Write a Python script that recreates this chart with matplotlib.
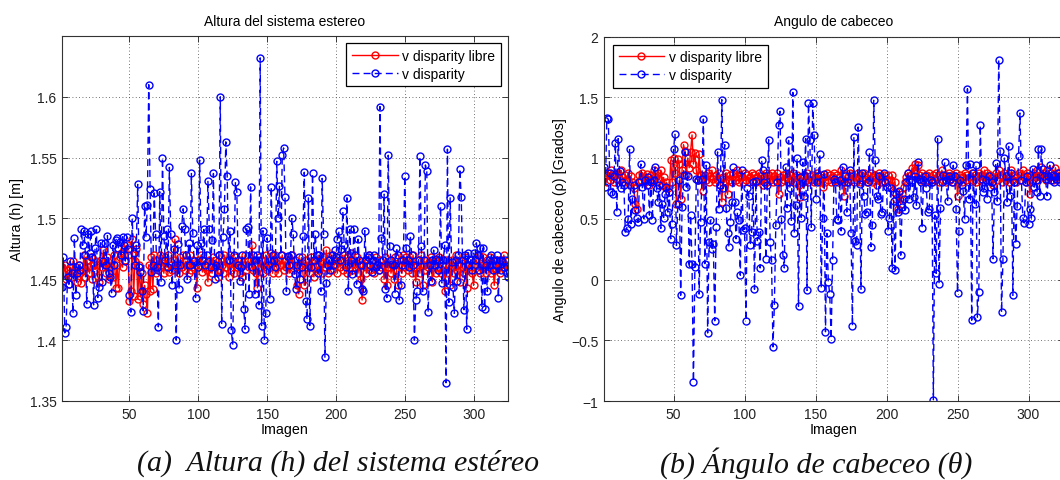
#!/usr/bin/env python3
"""
Altura del sistema estereo y angulo de cabeceo por imagen:
v disparity libre frente a v disparity.
"""

import matplotlib
matplotlib.use("Agg")
import matplotlib.pyplot as plt


# --- (a) altura [m] ---------------------------------------------------------
ALTURA_LIBRE = [
    1.460, 1.455, 1.462, 1.450, 1.458, 1.446, 1.460, 1.452, 1.465, 1.455,
    1.460, 1.448, 1.462, 1.455, 1.447, 1.458, 1.470, 1.452, 1.466, 1.460,
    1.455, 1.468, 1.450, 1.462, 1.458, 1.465, 1.452, 1.448, 1.466, 1.460,
    1.474, 1.462, 1.455, 1.468, 1.450, 1.460, 1.466, 1.452, 1.470, 1.443,
    1.462, 1.443, 1.468, 1.472, 1.460, 1.475, 1.466, 1.478, 1.470, 1.432,
    1.440, 1.483, 1.436, 1.465, 1.475, 1.434, 1.462, 1.436, 1.455, 1.430,
    1.445, 1.438, 1.422, 1.462, 1.440, 1.468, 1.442, 1.470, 1.455, 1.466,
    1.458, 1.470, 1.462, 1.465, 1.455, 1.468, 1.460, 1.470, 1.456, 1.462,
    1.458, 1.466, 1.483, 1.460, 1.462, 1.455, 1.468, 1.460, 1.470, 1.458,
    1.465, 1.462, 1.455, 1.470, 1.458, 1.466, 1.460, 1.462, 1.443, 1.466,
    1.462, 1.470, 1.456, 1.465, 1.460, 1.458, 1.448, 1.466, 1.462, 1.455,
    1.468, 1.460, 1.466, 1.452, 1.470, 1.458, 1.462, 1.455, 1.470, 1.460,
    1.466, 1.452, 1.470, 1.458, 1.465, 1.455, 1.468, 1.460, 1.462, 1.455,
    1.466, 1.452, 1.462, 1.470, 1.458, 1.465, 1.460, 1.466, 1.478, 1.458,
    1.462, 1.455, 1.443, 1.468, 1.460, 1.466, 1.455, 1.462, 1.470, 1.458,
    1.466, 1.460, 1.472, 1.455, 1.466, 1.470, 1.460, 1.455, 1.466, 1.462,
    1.470, 1.458, 1.465, 1.460, 1.468, 1.455, 1.462, 1.470, 1.458, 1.466,
    1.460, 1.445, 1.438, 1.462, 1.468, 1.455, 1.445, 1.466, 1.460, 1.462,
    1.455, 1.468, 1.460, 1.452, 1.466, 1.462, 1.470, 1.458, 1.465, 1.455,
    1.468, 1.460, 1.474, 1.455, 1.466, 1.462, 1.458, 1.470, 1.462, 1.466,
    1.455, 1.468, 1.460, 1.465, 1.458, 1.470, 1.462, 1.455, 1.468, 1.460,
    1.472, 1.458, 1.466, 1.460, 1.468, 1.455, 1.462, 1.450, 1.433, 1.462,
    1.466, 1.455, 1.462, 1.470, 1.458, 1.465, 1.460, 1.455, 1.468, 1.462,
    1.458, 1.466, 1.460, 1.462, 1.450, 1.468, 1.445, 1.460, 1.466, 1.455,
    1.462, 1.450, 1.468, 1.458, 1.445, 1.462, 1.466, 1.455, 1.470, 1.460,
    1.468, 1.458, 1.462, 1.466, 1.455, 1.470, 1.460, 1.448, 1.462, 1.466,
    1.455, 1.470, 1.445, 1.462, 1.458, 1.466, 1.460, 1.455, 1.468, 1.448,
    1.462, 1.466, 1.455, 1.460, 1.468, 1.455, 1.462, 1.458, 1.440, 1.466,
    1.455, 1.462, 1.445, 1.466, 1.460, 1.455, 1.470, 1.458, 1.462, 1.448,
    1.466, 1.460, 1.455, 1.468, 1.443, 1.462, 1.458, 1.466, 1.455, 1.445,
    1.462, 1.466, 1.458, 1.470, 1.455, 1.462, 1.468, 1.460, 1.455, 1.466,
    1.460, 1.468, 1.455, 1.462, 1.445, 1.458, 1.466, 1.460, 1.455, 1.462,
    1.466, 1.470, 1.458, 1.462, 1.460,
]

ALTURA_VDISP = [
    1.444, 1.468, 1.406, 1.411, 1.452, 1.446, 1.465, 1.455, 1.422, 1.484,
    1.437, 1.455, 1.462, 1.458, 1.491, 1.478, 1.490, 1.470, 1.430, 1.487,
    1.472, 1.490, 1.468, 1.429, 1.476, 1.491, 1.435, 1.444, 1.480, 1.448,
    1.465, 1.480, 1.462, 1.486, 1.455, 1.452, 1.439, 1.478, 1.462, 1.482,
    1.484, 1.476, 1.481, 1.470, 1.485, 1.478, 1.465, 1.485, 1.475, 1.437,
    1.423, 1.500, 1.472, 1.462, 1.478, 1.528, 1.460, 1.456, 1.440, 1.424,
    1.510, 1.485, 1.511, 1.610, 1.524, 1.456, 1.462, 1.521, 1.487, 1.460,
    1.411, 1.522, 1.448, 1.550, 1.486, 1.466, 1.491, 1.460, 1.542, 1.487,
    1.445, 1.475, 1.462, 1.400, 1.479, 1.442, 1.462, 1.494, 1.508, 1.491,
    1.470, 1.450, 1.480, 1.462, 1.537, 1.488, 1.465, 1.435, 1.478, 1.460,
    1.548, 1.480, 1.466, 1.491, 1.462, 1.470, 1.531, 1.491, 1.460, 1.482,
    1.537, 1.450, 1.462, 1.456, 1.470, 1.600, 1.413, 1.485, 1.508, 1.563,
    1.535, 1.466, 1.490, 1.408, 1.396, 1.470, 1.530, 1.522, 1.462, 1.449,
    1.460, 1.470, 1.426, 1.409, 1.491, 1.493, 1.438, 1.526, 1.460, 1.470,
    1.438, 1.466, 1.470, 1.429, 1.632, 1.412, 1.490, 1.400, 1.422, 1.484,
    1.462, 1.434, 1.526, 1.470, 1.466, 1.460, 1.547, 1.500, 1.527, 1.470,
    1.552, 1.558, 1.518, 1.440, 1.469, 1.462, 1.470, 1.500, 1.487, 1.454,
    1.442, 1.462, 1.468, 1.450, 1.460, 1.486, 1.538, 1.432, 1.417, 1.517,
    1.412, 1.460, 1.537, 1.466, 1.487, 1.470, 1.455, 1.470, 1.440, 1.533,
    1.487, 1.386, 1.447, 1.462, 1.466, 1.458, 1.470, 1.462, 1.474, 1.468,
    1.483, 1.490, 1.466, 1.475, 1.506, 1.478, 1.460, 1.517, 1.440, 1.491,
    1.466, 1.454, 1.491, 1.470, 1.446, 1.483, 1.466, 1.462, 1.442, 1.440,
    1.490, 1.466, 1.468, 1.470, 1.462, 1.456, 1.466, 1.470, 1.460, 1.462,
    1.458, 1.592, 1.484, 1.466, 1.520, 1.442, 1.435, 1.552, 1.477, 1.466,
    1.463, 1.462, 1.438, 1.476, 1.470, 1.433, 1.445, 1.462, 1.466, 1.535,
    1.476, 1.466, 1.460, 1.486, 1.470, 1.462, 1.400, 1.433, 1.440, 1.466,
    1.551, 1.477, 1.440, 1.466, 1.544, 1.539, 1.423, 1.462, 1.449, 1.466,
    1.474, 1.462, 1.467, 1.458, 1.466, 1.510, 1.447, 1.466, 1.478, 1.365,
    1.557, 1.431, 1.517, 1.464, 1.444, 1.422, 1.466, 1.449, 1.470, 1.541,
    1.518, 1.466, 1.425, 1.470, 1.409, 1.472, 1.462, 1.466, 1.458, 1.472,
    1.466, 1.480, 1.470, 1.458, 1.476, 1.427, 1.476, 1.426, 1.462, 1.440,
    1.466, 1.462, 1.470, 1.458, 1.466, 1.462, 1.470, 1.435, 1.466, 1.458,
    1.465, 1.460, 1.466, 1.455, 1.452,
]

# --- (b) angulo de cabeceo [grados] ----------------------------------------
CABECEO_LIBRE = [
    0.84, 0.86, 0.80, 0.88, 0.82, 0.90, 0.85, 0.80, 0.87, 0.83,
    0.88, 0.82, 0.90, 0.84, 0.80, 0.86, 0.82, 0.88, 0.78, 0.85,
    0.80, 0.75, 0.62, 0.58, 0.80, 0.86, 0.82, 0.88, 0.84, 0.80,
    0.87, 0.82, 0.78, 0.86, 0.82, 0.90, 0.84, 0.80, 0.88, 0.83,
    0.90, 0.78, 0.84, 0.76, 0.80, 0.75, 0.72, 0.98, 0.80, 1.00,
    0.88, 0.62, 0.99, 0.95, 0.66, 0.90, 1.11, 1.06, 0.86, 1.00,
    0.92, 1.05, 1.19, 0.95, 1.04, 0.90, 0.82, 1.03, 0.86, 0.82,
    0.73, 0.86, 0.82, 0.88, 0.80, 0.85, 0.90, 0.83, 0.80, 0.86,
    0.82, 0.88, 0.78, 0.64, 0.84, 0.80, 0.88, 0.70, 0.82, 0.86,
    0.80, 0.88, 0.84, 0.82, 0.90, 0.80, 0.86, 0.84, 0.80, 0.88,
    0.82, 0.86, 0.80, 0.84, 0.88, 0.82, 0.86, 0.80, 0.84, 0.88,
    0.82, 0.86, 0.78, 0.84, 0.88, 0.80, 0.86, 0.82, 0.88, 0.80,
    0.85, 0.82, 0.88, 0.70, 0.84, 0.80, 0.86, 0.82, 0.88, 0.84,
    0.80, 0.86, 0.82, 0.88, 0.80, 0.84, 0.86, 0.78, 0.68, 0.84,
    0.80, 0.86, 0.82, 0.88, 0.80, 0.85, 0.82, 0.86, 0.80, 0.84,
    0.88, 0.82, 0.80, 0.86, 0.76, 0.84, 0.80, 0.88, 0.82, 0.86,
    0.80, 0.84, 0.88, 0.82, 0.86, 0.80, 0.84, 0.90, 0.82, 0.69,
    0.86, 0.80, 0.84, 0.88, 0.82, 0.86, 0.80, 0.84, 0.82, 0.88,
    0.80, 0.86, 0.82, 0.88, 0.84, 0.80, 0.86, 0.82, 0.88, 0.80,
    0.84, 0.86, 0.78, 0.82, 0.88, 0.80, 0.84, 0.86, 0.80, 0.82,
    0.86, 0.78, 0.82, 0.86, 0.72, 0.80, 0.66, 0.58, 0.72, 0.62,
    0.70, 0.76, 0.80, 0.84, 0.88, 0.82, 0.86, 0.92, 0.88, 0.95,
    0.90, 0.94, 0.86, 0.82, 0.88, 0.84, 0.80, 0.86, 0.82, 0.88,
    0.84, 0.80, 0.86, 0.82, 0.88, 0.84, 0.80, 0.86, 0.90, 0.82,
    0.86, 0.80, 0.84, 0.88, 0.82, 0.86, 0.80, 0.84, 0.88, 0.69,
    0.82, 0.86, 0.80, 0.84, 0.88, 0.82, 0.86, 0.80, 0.84, 0.88,
    0.82, 0.86, 0.80, 0.84, 0.88, 0.82, 0.86, 0.80, 0.90, 0.84,
    0.88, 0.82, 0.86, 0.80, 0.78, 0.84, 0.88, 0.82, 0.90, 0.86,
    0.80, 0.84, 0.88, 0.82, 0.86, 0.80, 0.84, 0.90, 0.82, 0.86,
    0.80, 0.84, 0.88, 0.82, 0.86, 0.90, 0.84, 0.80, 0.88, 0.84,
    0.70, 0.86, 0.82, 0.88, 0.84, 0.90, 0.82, 0.86, 0.93, 0.84,
    0.88, 0.82, 0.86, 0.90, 0.84, 0.88, 0.82, 0.86, 0.92, 0.84,
    0.88, 0.82, 0.86, 0.90, 0.84,
]

CABECEO_VDISP = [
    0.925, 0.76, 1.33, 1.32, 0.88, 0.72, 0.70, 0.85, 1.125, 0.555,
    1.16, 0.89, 0.75, 0.80, 0.78, 0.39, 0.42, 0.50, 1.07, 0.46,
    0.66, 0.78, 0.57, 0.51, 0.47, 0.80, 0.95, 0.76, 0.50, 0.82,
    0.78, 0.84, 0.53, 0.80, 0.49, 0.82, 0.925, 0.75, 0.64, 0.78,
    0.42, 0.62, 0.51, 0.70, 0.76, 0.555, 0.72, 0.335, 0.46, 1.07,
    1.20, 0.28, 0.62, 0.82, -0.13, 0.60, 0.86, 1.05, 0.76, 0.85,
    0.125, 0.53, 0.13, -0.84, 0.10, 0.83, 0.82, -0.12, 0.47, 0.83,
    1.32, 0.13, 0.94, -0.44, 0.31, 0.49, 0.25, 0.29, -0.34, 0.43,
    1.05, 0.58, 0.78, 1.48, 0.75, 1.11, 0.59, 0.38, 0.27, 0.47,
    0.64, 0.925, 0.64, 0.335, 0.555, 0.49, 0.035, 0.905, 0.41, 0.42,
    -0.34, 0.75, 0.69, 0.28, 0.39, 0.80, -0.08, 0.81, 0.32, 0.39,
    0.095, 0.98, 0.90, 0.80, 0.17, 0.78, 1.15, 0.31, 0.16, -0.555,
    -0.21, 0.445, 0.80, 1.27, 1.385, 0.50, 0.20, 0.095, 0.925, 0.59,
    1.145, 0.75, 0.48, 1.54, 0.38, 0.61, 1.00, -0.22, 0.84, 0.51,
    0.965, 0.69, 1.16, -0.09, 1.45, 1.15, 0.43, 1.45, 1.19, 0.665,
    0.80, 0.85, 1.035, -0.07, 0.51, 0.87, -0.43, 0.38, -0.02, -0.12,
    -0.49, 0.16, 0.83, 0.80, 0.50, 0.49, 0.82, 0.40, 0.925, 0.80,
    0.85, 0.555, 0.80, 0.90, 0.38, -0.38, 1.175, 0.32, 0.28, 1.255,
    0.79, -0.08, 0.88, 0.69, 0.54, 0.555, 0.80, 1.05, 0.27, 0.45,
    1.475, 0.98, 0.69, 0.665, 0.85, 0.54, 0.555, 0.88, 0.80, 0.76,
    0.40, 0.51, 0.75, 0.095, 0.65, 0.08, 0.70, 0.555, 0.73, 0.20,
    0.60, 0.665, 0.57, 0.80, 0.88, 0.665, 0.80, 0.82, 0.68, 0.85,
    0.61, 0.965, 0.83, 0.80, 0.42, 0.82, 0.85, 0.75, 0.555, 0.58,
    0.82, 0.80, -0.99, 0.53, 0.05, 1.16, -0.035, 0.59, 0.80, 0.86,
    0.965, 0.82, 0.65, 0.85, 0.83, 0.80, 0.94, 0.85, 0.58, -0.11,
    0.40, 0.82, 0.78, 0.73, 0.50, 0.94, 1.57, 0.665, 0.95, -0.335,
    0.88, 0.625, 0.94, -0.31, -0.10, 1.27, 0.83, 0.72, 0.75, 0.82,
    0.665, 0.85, 0.76, 0.80, 0.17, 0.72, 0.96, 0.645, 1.81, 1.06,
    -0.27, 0.165, 1.00, 0.85, 0.64, 1.095, 0.69, 0.88, -0.13, 0.80,
    0.29, 0.605, 1.02, 1.37, 0.82, 0.51, 0.465, 0.80, 0.85, 0.46,
    0.58, 0.505, 0.91, 0.76, 0.82, 0.72, 1.07, 0.69, 1.07, 0.91,
    0.85, 0.83, 0.69, 0.85, 0.94, 0.82, 0.86, 0.80, 0.85, 0.83,
    0.88, 0.80, 0.85, 0.82, 0.86,
]

IMAGENES = list(range(1, len(ALTURA_LIBRE) + 1))
X_TICKS = [50, 100, 150, 200, 250, 300]
ALTURA_TICKS = [1.35, 1.4, 1.45, 1.5, 1.55, 1.6]
ALTURA_TICKLABELS = ["1.35", "1.4", "1.45", "1.5", "1.55", "1.6"]
CABECEO_TICKS = [-1, -0.5, 0, 0.5, 1, 1.5, 2]
CABECEO_TICKLABELS = ["\u22121", "\u22120.5", "0", "0.5", "1", "1.5", "2"]

LEYENDA = ["v disparity libre", "v disparity"]

SANS = ["Liberation Sans", "DejaVu Sans"]
SERIF = ["Liberation Serif", "DejaVu Serif"]


def _style_axes(ax):
    for side in ax.spines.values():
        side.set_color("#333333")
        side.set_linewidth(0.8)
    ax.tick_params(direction="in", top=True, right=True, length=4,
                   width=0.6, labelsize=10, colors="#222222", pad=4)
    ax.grid(True, linestyle=(0, (1, 3)), color="#444444", linewidth=0.6)
    ax.set_axisbelow(False)


def _draw(ax, libre, vdisp):
    ax.plot(IMAGENES, libre, color="red", linestyle="-", linewidth=1.0,
            marker="o", markersize=5, markerfacecolor="none",
            markeredgewidth=1.0, label=LEYENDA[0])
    ax.plot(IMAGENES, vdisp, color="blue", linestyle=(0, (5, 3)),
            linewidth=1.0, marker="o", markersize=5,
            markerfacecolor="none", markeredgewidth=1.0, label=LEYENDA[1])


def _legend(ax, loc, anchor):
    leg = ax.legend(loc=loc, bbox_to_anchor=anchor, borderaxespad=0,
                    fontsize=10, handlelength=3.3, fancybox=False,
                    framealpha=1, edgecolor="black", borderpad=0.4,
                    labelspacing=0.3, handletextpad=0.35)
    leg.get_frame().set_linewidth(0.9)
    return leg


def main():
    plt.rcParams["font.family"] = SANS
    fig = plt.figure(figsize=(10.6, 4.81), dpi=100)

    ax1 = fig.add_axes([62 / 1060, 1 - 402 / 481, 446 / 1060, 365 / 481])
    _draw(ax1, ALTURA_LIBRE, ALTURA_VDISP)
    ax1.set_xlim(1, 325)
    ax1.set_ylim(1.35, 1.65)
    ax1.set_xticks(X_TICKS)
    ax1.set_yticks(ALTURA_TICKS)
    ax1.set_yticklabels(ALTURA_TICKLABELS)
    _style_axes(ax1)
    ax1.set_title("Altura del sistema estereo", fontsize=10, pad=8)
    ax1.set_xlabel("Imagen", fontsize=10.3, labelpad=1)
    ax1.set_ylabel("Altura (h) [m]", fontsize=10.3, labelpad=4)
    _legend(ax1, "upper right", (1 - 7 / 446, 1 - 7 / 365))

    ax2 = fig.add_axes([604 / 1060, 1 - 402 / 481, 460 / 1060, 364.5 / 481])
    _draw(ax2, CABECEO_LIBRE, CABECEO_VDISP)
    ax2.set_xlim(1, 325)
    ax2.set_ylim(-1, 2)
    ax2.set_xticks(X_TICKS)
    ax2.set_yticks(CABECEO_TICKS)
    ax2.set_yticklabels(CABECEO_TICKLABELS)
    _style_axes(ax2)
    ax2.set_title("Angulo de cabeceo", fontsize=10, pad=8)
    ax2.set_xlabel("Imagen", fontsize=10.3, labelpad=1)
    ax2.set_ylabel("Angulo de cabeceo (\u03c1) [Grados]", fontsize=10.3, labelpad=3)
    _legend(ax2, "upper left", (9 / 460, 1 - 8 / 364.5))

    fig.text(0.319, 0.037, "(a)  Altura (h) del sistema est\u00e9reo",
             ha="center", va="center", fontsize=21.5, style="italic",
             family=SERIF, color="#111111")
    fig.text(0.770, 0.037, "(b) \u00c1ngulo de cabeceo (\u03b8)",
             ha="center", va="center", fontsize=21.5, style="italic",
             family=SERIF, color="#111111")

    fig.savefig("out.png", dpi=100)
    plt.close(fig)


if __name__ == "__main__":
    main()
